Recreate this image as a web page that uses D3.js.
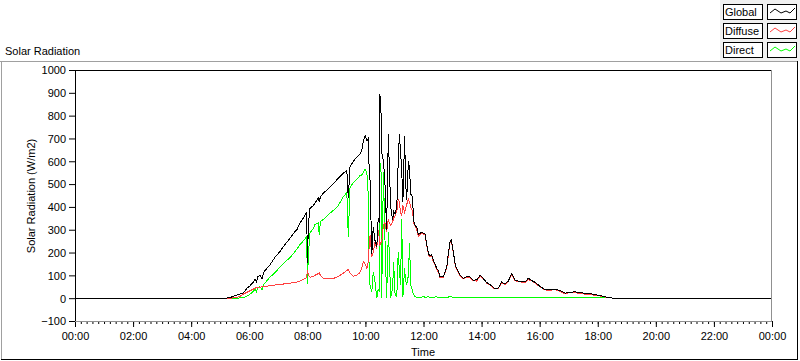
<!DOCTYPE html>
<html><head><meta charset="utf-8">
<script src="https://cdn.jsdelivr.net/npm/d3@7"></script>
<style>
body{margin:0;background:#fff;}
svg text{font-family:"Liberation Sans",Arial,sans-serif;font-size:11px;fill:#000;}
</style>
</head><body>
<svg id="chart" width="800" height="361"></svg>
<script>
// ---- data (time in hours of day, values in W/m2) ----
const times = [
  0, 5.20, 5.34, 5.54, 5.68, 5.80, 5.91, 6.03, 6.14, 6.20,
  6.25, 6.30, 6.37, 6.44, 6.49, 6.60, 6.71, 6.89, 7.06, 7.23,
  7.40, 7.52, 7.64, 7.75, 7.87, 7.98, 8.00, 8.04, 8.09, 8.20,
  8.26, 8.38, 8.41, 8.45, 8.55, 8.71, 8.89, 9.06, 9.24, 9.36,
  9.41, 9.47, 9.58, 9.70, 9.81, 9.87, 9.93, 9.99, 10.05, 10.10,
  10.13, 10.16, 10.22, 10.27, 10.33, 10.39, 10.44, 10.48, 10.50, 10.54,
  10.56, 10.62, 10.67, 10.73, 10.79, 10.82, 10.87, 10.94, 10.97, 11.02,
  11.08, 11.13, 11.17, 11.21, 11.25, 11.29, 11.35, 11.38, 11.42, 11.48,
  11.52, 11.56, 11.63, 11.65, 11.71, 11.77, 11.82, 11.94, 11.99, 12.05,
  12.17, 12.22, 12.28, 12.34, 12.46, 12.52, 12.57, 12.68, 12.80, 12.86,
  12.91, 12.96, 13.03, 13.09, 13.14, 13.26, 13.37, 13.49, 13.60, 13.71,
  13.83, 13.95, 14.06, 14.18, 14.29, 14.46, 14.58, 14.69, 14.81, 14.92,
  15.04, 15.15, 15.27, 15.38, 15.50, 15.61, 15.73, 15.84, 16.01, 16.18,
  16.36, 16.53, 16.70, 16.87, 17.05, 17.22, 17.39, 17.56, 17.73, 17.91,
  18.08, 18.25, 18.42, 18.53, 24
];
const globalVals = [
  0, 0, 3, 12, 18, 24, 42, 55, 70, 85,
  70, 95, 100, 84, 112, 130, 145, 180, 205, 235,
  262, 284, 300, 330, 352, 377, 153, 330, 393, 405,
  415, 440, 420, 445, 460, 478, 500, 525, 548, 559,
  440, 575, 600, 617, 632, 646, 690, 712, 690, 700,
  560, 515, 195, 311, 253, 224, 350, 330, 894, 806,
  640, 600, 515, 300, 719, 588, 399, 341, 380, 370,
  399, 600, 720, 640, 560, 420, 712, 520, 430, 600,
  566, 457, 442, 341, 319, 311, 278, 290, 284, 282,
  195, 186, 190, 166, 130, 118, 93, 93, 137, 200,
  246, 255, 200, 151, 130, 100, 86, 95, 93, 79,
  80, 100, 86, 68, 60, 42, 45, 71, 62, 75,
  108, 80, 75, 72, 71, 88, 77, 70, 52, 38,
  38, 40, 33, 22, 26, 28, 24, 22, 20, 15,
  12, 6, 3, 0, 0
];
const diffuseVals = [
  0, 0, 0, 3, 8, 18, 25, 33, 40, 44,
  46, 47, 48, 50, 50, 52, 55, 58, 60, 63,
  66, 68, 71, 75, 82, 90, 122, 100, 92, 95,
  100, 108, 110, 100, 86, 88, 86, 95, 110, 122,
  125, 110, 96, 100, 112, 130, 160, 150, 130, 160,
  230, 275, 180, 202, 246, 217, 300, 260, 231, 246,
  246, 319, 333, 290, 348, 330, 319, 335, 350, 362,
  380, 435, 420, 377, 362, 406, 377, 390, 410, 435,
  420, 400, 377, 335, 315, 300, 272, 285, 280, 278,
  190, 182, 185, 160, 126, 112, 90, 92, 133, 195,
  240, 250, 196, 147, 126, 98, 85, 92, 90, 77,
  75, 95, 85, 66, 58, 40, 44, 68, 58, 73,
  103, 76, 73, 70, 69, 82, 75, 66, 50, 36,
  35, 38, 30, 20, 24, 25, 20, 18, 16, 12,
  10, 5, 3, 0, 0
];
const directVals = [
  0, 0, 0, 0, 1, 2, 8, 18, 30, 40,
  28, 46, 50, 38, 60, 75, 92, 112, 137, 158,
  178, 195, 215, 235, 252, 270, 64, 200, 285, 305,
  322, 330, 275, 335, 345, 365, 384, 405, 445, 462,
  270, 486, 505, 520, 537, 540, 550, 566, 551, 450,
  86, 57, 28, 115, 71, 0, 40, 28, 595, 551,
  0, 551, 275, 0, 290, 200, 0, 50, 160, 20,
  6, 202, 120, 57, 348, 6, 130, 80, 57, 100,
  240, 57, 28, 20, 6, 4, 3, 5, 8, 4,
  6, 3, 5, 4, 6, 3, 5, 3, 4, 5,
  8, 6, 3, 3, 2, 2, 3, 3, 2, 2,
  3, 2, 2, 2, 2, 2, 2, 2, 2, 2,
  2, 2, 2, 2, 2, 2, 2, 2, 2, 2,
  2, 2, 2, 2, 2, 2, 2, 2, 2, 2,
  2, 2, 2, 0, 0
];
const yTicks = [-100, 0, 100, 200, 300, 400, 500, 600, 700, 800, 900, 1000];
const xTickValues = [0, 2, 4, 6, 8, 10, 12, 14, 16, 18, 20, 22, 24];
const xTickLabels = ["00:00","02:00","04:00","06:00","08:00","10:00","12:00","14:00","16:00","18:00","20:00","22:00","00:00"];
const seriesNames = ["Global", "Diffuse", "Direct"];
const seriesColors = ["#000000", "#ff4040", "#00ff00"];
const seriesValues = [globalVals, diffuseVals, directVals];

// ---- drawing ----
const svg = d3.select("#chart");
const x = d3.scaleLinear().domain([0, 24]).range([75, 772]);
const y = d3.scaleLinear().domain([-100, 1000]).range([321, 70]);

// legend background
svg.append("rect").attr("x", 720).attr("y", 0).attr("width", 80).attr("height", 61).attr("fill", "#f0f0f0");

// panel frame
svg.append("line").attr("x1", 0).attr("x2", 798).attr("y1", 61.5).attr("y2", 61.5).attr("stroke", "#a0a0a0");
svg.append("line").attr("x1", 1.5).attr("x2", 1.5).attr("y1", 61).attr("y2", 360).attr("stroke", "#a0a0a0");
svg.append("line").attr("x1", 1).attr("x2", 798).attr("y1", 359.5).attr("y2", 359.5).attr("stroke", "#000");
svg.append("line").attr("x1", 797.5).attr("x2", 797.5).attr("y1", 61).attr("y2", 360).attr("stroke", "#000");

svg.append("text").attr("x", 5).attr("y", 55).text("Solar Radiation");

// legend
seriesNames.forEach((name, i) => {
  const y0 = 4 + i * 19;
  svg.append("rect").attr("x", 723.5).attr("y", y0 + 0.5).attr("width", 39).attr("height", 15)
    .attr("fill", "#fff").attr("stroke", "#000");
  svg.append("text").attr("x", 725).attr("y", y0 + 12).text(name);
  svg.append("rect").attr("x", 767.5).attr("y", y0 + 0.5).attr("width", 29).attr("height", 15)
    .attr("fill", "#fff").attr("stroke", "#000");
  const pts = [[3, 9], [8, 5], [14, 9], [19, 7], [23, 9], [28, 4]].map(p => [767 + p[0], y0 + p[1]]);
  svg.append("path").attr("d", d3.line()(pts)).attr("fill", "none").attr("stroke", seriesColors[i]);
});

// plot background
svg.append("rect").attr("x", 75).attr("y", 70).attr("width", 697).attr("height", 251).attr("fill", "#fff");

// axes
const yAxis = d3.axisLeft(y).tickValues(yTicks).tickSize(6).tickPadding(3).tickFormat(d3.format("d"));
const gy = svg.append("g").attr("transform", "translate(75,0)").call(yAxis);
gy.select(".domain").remove();
gy.selectAll("text").attr("dy", "0.35em");
gy.attr("font-family", null).attr("font-size", null);

const minorTicks = d3.range(0, 24.001, 0.2);
const xMinor = d3.axisBottom(x).tickValues(minorTicks).tickSize(3).tickFormat("");
const gxm = svg.append("g").attr("transform", "translate(0,321)").call(xMinor);
gxm.select(".domain").remove();

const xAxis = d3.axisBottom(x).tickValues(xTickValues).tickSize(6).tickPadding(5)
  .tickFormat((d, i) => xTickLabels[i]);
const gx = svg.append("g").attr("transform", "translate(0,321)").call(xAxis);
gx.select(".domain").remove();
gx.attr("font-family", null).attr("font-size", null);

svg.append("text").attr("x", 423).attr("y", 356).attr("text-anchor", "middle").text("Time");
svg.append("text").attr("transform", "translate(35,196) rotate(-90)").attr("text-anchor", "middle")
  .text("Solar Radiation (W/m2)");

// series (direct first, global on top)
const line = d3.line().x((d, i) => x(times[i])).y(d => y(d));
[2, 1, 0].forEach(k => {
  svg.append("path").datum(seriesValues[k]).attr("d", line)
    .attr("fill", "none").attr("stroke", seriesColors[k]).attr("stroke-width", 1)
    .attr("shape-rendering", "crispEdges");
});

// plot borders
svg.append("line").attr("x1", 75).attr("x2", 772).attr("y1", 70.5).attr("y2", 70.5).attr("stroke", "#000");
svg.append("line").attr("x1", 75.5).attr("x2", 75.5).attr("y1", 70).attr("y2", 322).attr("stroke", "#000");
svg.append("line").attr("x1", 771.5).attr("x2", 771.5).attr("y1", 70).attr("y2", 322).attr("stroke", "#909090");
svg.append("line").attr("x1", 75).attr("x2", 772).attr("y1", 321.5).attr("y2", 321.5).attr("stroke", "#909090");
</script>
</body></html>
